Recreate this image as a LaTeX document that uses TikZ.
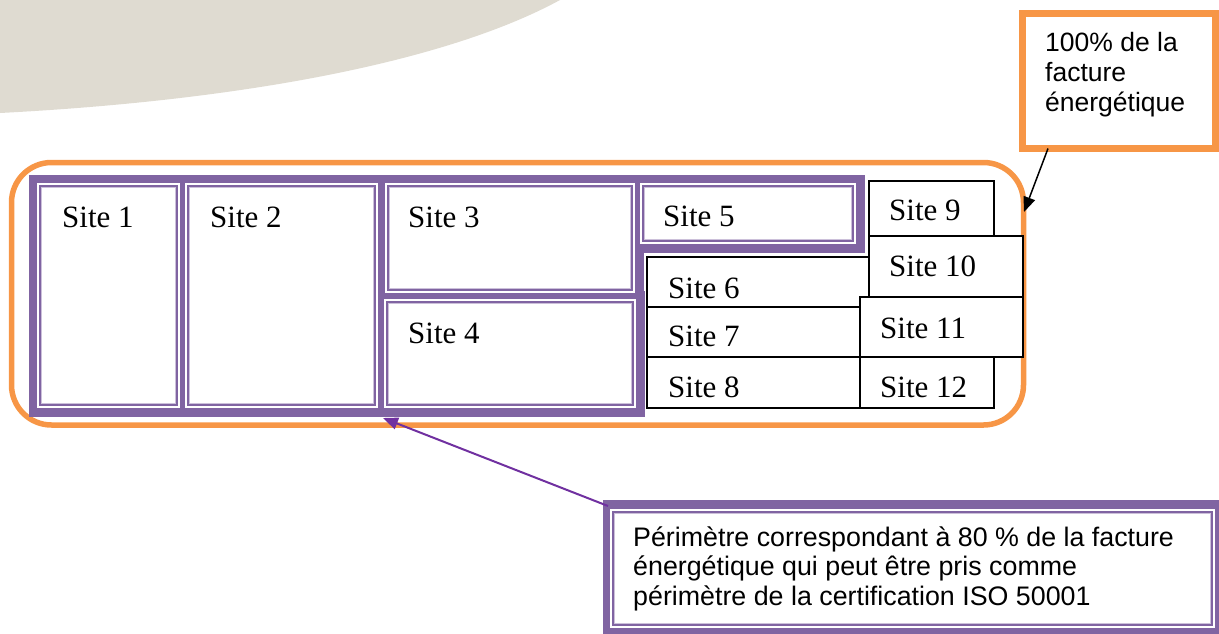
\documentclass[tikz,border=0pt]{standalone}
\usepackage{fontspec}
\setmainfont{Liberation Serif}
\newfontfamily\annotfont{Liberation Sans}
\usetikzlibrary{arrows.meta}
\definecolor{beige}{RGB}{223,219,209}
\definecolor{orng}{RGB}{247,150,70}
\definecolor{pband}{RGB}{128,100,162}
\definecolor{plav}{RGB}{204,192,218}
\definecolor{parrow}{RGB}{112,48,160}
\begin{document}
\begin{tikzpicture}[x=1pt,y=-1pt,
  bandfill/.style={fill=pband},
  gapfill/.style={fill=white},
  thinline/.style={draw=pband,line width=1.5pt},
  lavline/.style={draw=plav,line width=1.2pt},
  blackbox/.style={draw=black,fill=white,line width=1.4pt},
  sitetxt/.style={anchor=base west,inner sep=0pt,font=\fontsize{31}{36}\selectfont},
  annottxt/.style={anchor=base west,inner sep=0pt,font=\annotfont\fontsize{26.5}{30}\selectfont},
  notetxtstyle/.style={anchor=base west,inner sep=0pt,font=\annotfont\fontsize{26.8}{30}\selectfont},
  blkarrow/.style={draw=black,line width=1.5pt,-{Triangle[length=15pt,width=12pt]}},
  purarrow/.style={draw=parrow,line width=2pt,-{Triangle[length=15pt,width=12pt]}}]
\useasboundingbox (0,0) rectangle (1219,633);
\clip (0,0) rectangle (1219,633);
% background shape
\fill[beige] (0,0) -- (0,113) .. controls (250,100) and (450,60) .. (560,0) -- cycle;
% orange frame (100%)
\node[draw=orng,line width=5.5pt,rounded corners=40pt,minimum width=1012pt,minimum height=262.5pt,inner sep=0pt,outer sep=0pt,anchor=north west] (frame) at (11.5,162.5) {};
% purple site boxes: thick band, white gap, thin line
\foreach \xa/\ya/\xb/\yb in {40/186/177/405,188/186/375/405,388/186/632/290,387/302/633/405,643/186/853/241}{
  \fill[bandfill] (\xa-11.5,\ya-11.5) rectangle (\xb+11.5,\yb+11.5);
}
\foreach \xa/\ya/\xb/\yb in {40/186/177/405,188/186/375/405,388/186/632/290,387/302/633/405,643/186/853/241}{
  \fill[gapfill] (\xa-3,\ya-3) rectangle (\xb+3,\yb+3);
}
\foreach \xa/\ya/\xb/\yb in {40/186/177/405,188/186/375/405,388/186/632/290,387/302/633/405,643/186/853/241}{
  \draw[lavline] (\xa+1.4,\ya+1.4) rectangle (\xb-1.4,\yb-1.4);
  \draw[thinline] (\xa,\ya) rectangle (\xb,\yb);
}
% black site boxes
\draw[blackbox] (647,257) rectangle (869,307);
\draw[blackbox] (647,307) rectangle (860,357);
\draw[blackbox] (647,357) rectangle (860,408);
\draw[blackbox] (869,181) rectangle (994,236);
\draw[blackbox] (869,236) rectangle (1023,297);
\draw[blackbox] (860,297) rectangle (1023,357);
\draw[blackbox] (860,357) rectangle (994,408);
% site labels
\node[sitetxt] (s1) at (62,227) {Site 1};
\node[sitetxt] (s2) at (210,227) {Site 2};
\node[sitetxt] (s3) at (408,227) {Site 3};
\node[sitetxt] (s4) at (408,343) {Site 4};
\node[sitetxt] (s5) at (663,226) {Site 5};
\node[sitetxt] (s6) at (668,298) {Site 6};
\node[sitetxt] (s7) at (668,346) {Site 7};
\node[sitetxt] (s8) at (668,397) {Site 8};
\node[sitetxt] (s9) at (889,220) {Site 9};
\node[sitetxt] (s10) at (889,276) {Site 10};
\node[sitetxt] (s11) at (880,338) {Site 11};
\node[sitetxt] (s12) at (880,397) {Site 12};
% top-right annotation
\node[draw=orng,fill=white,line width=7pt,minimum width=192.5pt,minimum height=135pt,inner sep=0pt,outer sep=0pt,anchor=north west] (tot) at (1022.5,13.5) {};
\node[annottxt] (tottxt) at (1045,51) {\parbox[t]{170pt}{\raggedright 100\% de la\\facture\\énergétique}};
% bottom annotation
\node[bandfill,minimum width=640pt,minimum height=150pt,inner sep=0pt,outer sep=0pt,anchor=north west] (note) at (603,500) {};
\fill[gapfill] ([shift={(7,9)}]note.north west) rectangle (1215,628);
\draw[lavline] ([shift={(11.4,13.4)}]note.north west) rectangle (1210.6,623.6);
\draw[thinline] ([shift={(10,12)}]note.north west) rectangle (1212,625);
\node[notetxtstyle] (notetxt) at (633,546) {\parbox[t]{575pt}{\raggedright\baselineskip=29.5pt Périmètre correspondant à 80 \% de la facture\\énergétique qui peut être pris comme\\périmètre de la certification ISO 50001}};
% connectors
\coordinate (tipA) at (1024,212);
\coordinate (tipB) at (383,418);
\draw[blkarrow] ([xshift=25.5pt]tot.south west) -- (tipA);
\draw[purarrow] ([shift={(5,6)}]note.north west) -- (tipB);
\end{tikzpicture}
\end{document}
